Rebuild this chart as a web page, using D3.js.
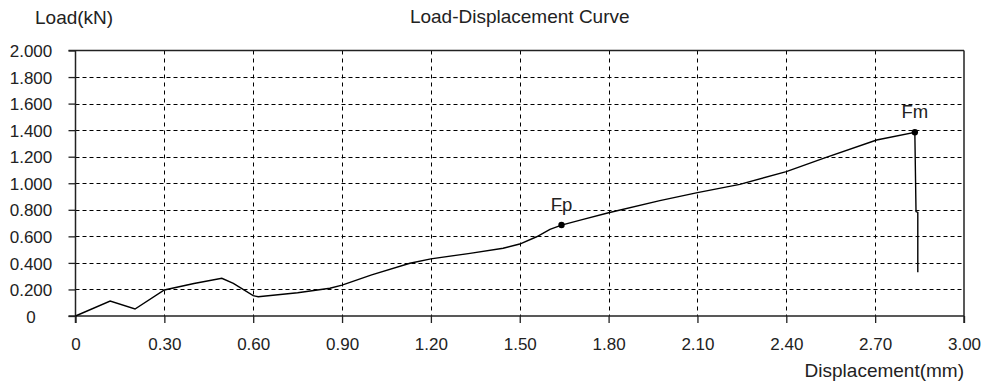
<!DOCTYPE html>
<html>
<head>
<meta charset="utf-8">
<script src="https://cdn.jsdelivr.net/npm/d3@7"></script>
<style>
  body { margin: 0; background: #fff; }
  text { font-family: "Liberation Sans", Arial, sans-serif; fill: #222; }
</style>
</head>
<body>
<div id="chart"></div>
<script>
// load-displacement readings
const disp = [0, 0.117, 0.201, 0.30, 0.40, 0.494, 0.533, 0.60, 0.617, 0.75, 0.859, 0.90, 1.0, 1.129, 1.20, 1.332, 1.444, 1.50, 1.557, 1.602, 1.641, 1.714, 1.80, 1.973, 2.10, 2.243, 2.40, 2.525, 2.705, 2.834, 2.838, 2.844, 2.844];
const load = [0, 0.113, 0.053, 0.196, 0.245, 0.284, 0.246, 0.153, 0.145, 0.175, 0.209, 0.232, 0.31, 0.397, 0.43, 0.472, 0.51, 0.542, 0.597, 0.653, 0.685, 0.728, 0.778, 0.869, 0.929, 0.992, 1.087, 1.188, 1.326, 1.384, 0.786, 0.78, 0.33];

const xTicks = [0, 0.3, 0.6, 0.9, 1.2, 1.5, 1.8, 2.1, 2.4, 2.7, 3.0];
const yTicks = [0, 0.2, 0.4, 0.6, 0.8, 1.0, 1.2, 1.4, 1.6, 1.8, 2.0];

const markNames = ["Fp", "Fm"];
const markDisp = [1.641, 2.834];
const markLoad = [0.685, 1.384];

const width = 989, height = 386;
const plotL = 75.5, plotR = 964, plotT = 50.5, plotB = 316;

const svg = d3.select("#chart").append("svg")
  .attr("width", width)
  .attr("height", height);

const x = d3.scaleLinear().domain([0, 3]).range([plotL, plotR]);
const y = d3.scaleLinear().domain([0, 2]).range([plotB, plotT]);
const px = v => Math.round(v) + 0.5; // snap to pixel for sharp dashes

// grid
svg.append("g").selectAll("line")
  .data(yTicks.filter(d => d > 0 && d < 2))
  .enter().append("line")
  .attr("x1", plotL).attr("x2", plotR)
  .attr("y1", d => px(y(d))).attr("y2", d => px(y(d)))
  .attr("stroke", "#000").attr("stroke-width", 1)
  .attr("stroke-dasharray", "4,3");

svg.append("g").selectAll("line")
  .data(xTicks.filter(d => d > 0 && d < 3))
  .enter().append("line")
  .attr("x1", d => px(x(d))).attr("x2", d => px(x(d)))
  .attr("y1", plotT).attr("y2", plotB)
  .attr("stroke", "#000").attr("stroke-width", 1)
  .attr("stroke-dasharray", "4,4");

// axes
const xAxis = svg.append("g")
  .attr("transform", "translate(0," + plotB + ")")
  .call(d3.axisBottom(x).tickValues(xTicks).tickSize(7).tickSizeOuter(0)
    .tickFormat(d => d === 0 ? "0" : d3.format(".2f")(d)));
const yAxis = svg.append("g")
  .attr("transform", "translate(" + plotL + ",0)")
  .call(d3.axisLeft(y).tickValues(yTicks).tickSize(7).tickSizeOuter(0)
    .tickFormat(d => d === 0 ? "0" : d3.format(".3f")(d)));

[xAxis, yAxis].forEach(a => {
  a.select(".domain").remove();
  a.selectAll(".tick line").attr("stroke", "#222").attr("stroke-width", 1.3);
  a.selectAll(".tick text").style("font-size", "17px").attr("fill", "#222");
});
xAxis.selectAll(".tick text").attr("y", 0).attr("dy", 34);
yAxis.selectAll(".tick text")
  .attr("text-anchor", "middle")
  .attr("x", 31 - plotL)
  .attr("dy", "0.36em");

// frame
const frame = svg.append("g").attr("stroke", "#222").attr("stroke-width", 1.5);
frame.append("line").attr("x1", plotL - 7).attr("x2", plotR).attr("y1", plotB).attr("y2", plotB);
frame.append("line").attr("x1", plotL - 7).attr("x2", plotR).attr("y1", plotT).attr("y2", plotT);
frame.append("line").attr("x1", plotL).attr("x2", plotL).attr("y1", plotT).attr("y2", plotB + 7);
frame.append("line").attr("x1", plotR).attr("x2", plotR).attr("y1", plotT).attr("y2", plotB + 7);

// curve
const pts = disp.map((d, i) => [d, load[i]]);
svg.append("path")
  .datum(pts)
  .attr("fill", "none")
  .attr("stroke", "#000")
  .attr("stroke-width", 1.4)
  .attr("d", d3.line().x(d => x(d[0])).y(d => y(d[1])));

// marked points
const marks = svg.append("g");
markNames.forEach((name, i) => {
  marks.append("circle")
    .attr("cx", x(markDisp[i])).attr("cy", y(markLoad[i]))
    .attr("r", 3.2).attr("fill", "#000");
  marks.append("text")
    .attr("x", x(markDisp[i])).attr("y", y(markLoad[i]) - 14)
    .attr("text-anchor", "middle")
    .style("font-size", "18.5px")
    .text(name);
});

// titles
svg.append("text").attr("x", 35).attr("y", 24)
  .style("font-size", "19px").text("Load(kN)");
svg.append("text").attr("x", (plotL + plotR) / 2).attr("y", 23)
  .attr("text-anchor", "middle")
  .style("font-size", "19px").text("Load-Displacement Curve");
svg.append("text").attr("x", plotR).attr("y", 377)
  .attr("text-anchor", "end")
  .style("font-size", "19px").text("Displacement(mm)");
</script>
</body>
</html>
